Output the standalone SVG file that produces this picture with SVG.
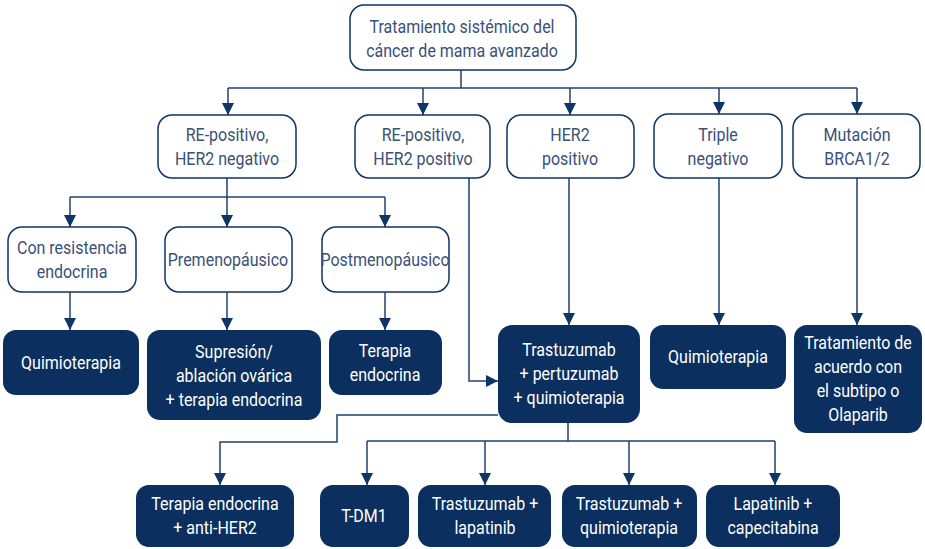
<svg xmlns="http://www.w3.org/2000/svg" width="925" height="549" viewBox="0 0 925 549">
<defs>
<marker id="arr" markerUnits="userSpaceOnUse" markerWidth="12" markerHeight="12" viewBox="0 0 10 10" refX="10" refY="5" orient="auto">
<path d="M0,0 L10,5 L0,10 z" fill="#0d3566"/>
</marker>
<style>
.w{fill:#fff;stroke:#0d3566;stroke-width:1.5}
.d{fill:#0b2f5e;stroke:none}
.t{font-family:Roboto,"Liberation Sans",sans-serif;font-size:18px;text-anchor:middle}
.tw{fill:#3a5078}
.td{fill:#ffffff}
.c{fill:none;stroke:#1f4170;stroke-width:1.5}
</style>
</defs>
<rect width="925" height="549" fill="#fff"/>
<g id="connectors">
<path class="c" d="M461,70 V88 M228,88 H857"/>
<path class="c" marker-end="url(#arr)" d="M228,88 V115"/>
<path class="c" marker-end="url(#arr)" d="M423,88 V115"/>
<path class="c" marker-end="url(#arr)" d="M570,88 V115"/>
<path class="c" marker-end="url(#arr)" d="M719,88 V114"/>
<path class="c" marker-end="url(#arr)" d="M857,88 V114"/>
<path class="c" d="M227,178 V197 M70,197 H385"/>
<path class="c" marker-end="url(#arr)" d="M70,197 V227"/>
<path class="c" marker-end="url(#arr)" d="M227,197 V227"/>
<path class="c" marker-end="url(#arr)" d="M385,197 V227"/>
<path class="c" marker-end="url(#arr)" d="M70,292 V330"/>
<path class="c" marker-end="url(#arr)" d="M227,292 V330"/>
<path class="c" marker-end="url(#arr)" d="M385,292 V330"/>
<path class="c" marker-end="url(#arr)" d="M469,178 V381 H498"/>
<path class="c" marker-end="url(#arr)" d="M569,178 V325"/>
<path class="c" marker-end="url(#arr)" d="M719,178 V325"/>
<path class="c" marker-end="url(#arr)" d="M857,178 V325"/>
<path class="c" marker-end="url(#arr)" d="M498,415 H337 V442 H220 V485"/>
<path class="c" d="M568,423 V441 M367,441 H775"/>
<path class="c" marker-end="url(#arr)" d="M367,441 V485"/>
<path class="c" marker-end="url(#arr)" d="M485,441 V485"/>
<path class="c" marker-end="url(#arr)" d="M629,441 V485"/>
<path class="c" marker-end="url(#arr)" d="M775,441 V485"/>
</g>
<g id="n-root"><rect class="w" x="350" y="5" width="226" height="65" rx="14"/>
<g transform="translate(462,0) scale(0.89,1)"><text class="t tw" x="0" y="33">Tratamiento sistémico del</text><text class="t tw" x="0" y="57">cáncer de mama avanzado</text></g></g>
<g id="n-reneg"><rect class="w" x="158" y="115" width="138" height="63" rx="14"/>
<g transform="translate(227,0) scale(0.89,1)"><text class="t tw" x="0" y="141">RE-positivo,</text><text class="t tw" x="0" y="165">HER2 negativo</text></g></g>
<g id="n-repos"><rect class="w" x="355" y="115" width="135" height="63" rx="14"/>
<g transform="translate(423,0) scale(0.89,1)"><text class="t tw" x="0" y="141">RE-positivo,</text><text class="t tw" x="0" y="165">HER2 positivo</text></g></g>
<g id="n-her2"><rect class="w" x="507" y="115" width="127" height="63" rx="14"/>
<g transform="translate(570,0) scale(0.89,1)"><text class="t tw" x="0" y="141">HER2</text><text class="t tw" x="0" y="165">positivo</text></g></g>
<g id="n-triple"><rect class="w" x="654" y="114" width="128" height="64" rx="14"/>
<g transform="translate(718,0) scale(0.89,1)"><text class="t tw" x="0" y="141">Triple</text><text class="t tw" x="0" y="165">negativo</text></g></g>
<g id="n-brca"><rect class="w" x="793" y="114" width="127" height="64" rx="14"/>
<g transform="translate(857,0) scale(0.89,1)"><text class="t tw" x="0" y="141">Mutación</text><text class="t tw" x="0" y="165">BRCA1/2</text></g></g>
<g id="n-resist"><rect class="w" x="8" y="227" width="128" height="65" rx="14"/>
<g transform="translate(72,0) scale(0.89,1)"><text class="t tw" x="0" y="254">Con resistencia</text><text class="t tw" x="0" y="278">endocrina</text></g></g>
<g id="n-pre"><rect class="w" x="165" y="227" width="127" height="65" rx="14"/>
<g transform="translate(228,0) scale(0.89,1)"><text class="t tw" x="0" y="266">Premenopáusico</text></g></g>
<g id="n-post"><rect class="w" x="322" y="227" width="127" height="65" rx="14"/>
<g transform="translate(385,0) scale(0.89,1)"><text class="t tw" x="0" y="266">Postmenopáusico</text></g></g>
<g id="n-quimio1"><rect class="d" x="3" y="330" width="136" height="65" rx="13"/>
<g transform="translate(71,0) scale(0.89,1)"><text class="t td" x="0" y="369">Quimioterapia</text></g></g>
<g id="n-supresion"><rect class="d" x="147" y="330" width="174" height="90" rx="13"/>
<g transform="translate(234,0) scale(0.89,1)"><text class="t td" x="0" y="358">Supresión/</text><text class="t td" x="0" y="382">ablación ovárica</text><text class="t td" x="0" y="406">+ terapia endocrina</text></g></g>
<g id="n-terapia"><rect class="d" x="329" y="330" width="113" height="65" rx="13"/>
<g transform="translate(385,0) scale(0.89,1)"><text class="t td" x="0" y="357">Terapia</text><text class="t td" x="0" y="381">endocrina</text></g></g>
<g id="n-trastuzumab"><rect class="d" x="498" y="325" width="142" height="98" rx="14"/>
<g transform="translate(569,0) scale(0.89,1)"><text class="t td" x="0" y="356">Trastuzumab</text><text class="t td" x="0" y="380">+ pertuzumab</text><text class="t td" x="0" y="404">+ quimioterapia</text></g></g>
<g id="n-quimio2"><rect class="d" x="650" y="325" width="136" height="64" rx="13"/>
<g transform="translate(718,0) scale(0.89,1)"><text class="t td" x="0" y="363">Quimioterapia</text></g></g>
<g id="n-subtipo"><rect class="d" x="794" y="325" width="128" height="108" rx="13"/>
<g transform="translate(858,0) scale(0.89,1)"><text class="t td" x="0" y="349">Tratamiento de</text><text class="t td" x="0" y="373">acuerdo con</text><text class="t td" x="0" y="397">el subtipo o</text><text class="t td" x="0" y="421">Olaparib</text></g></g>
<g id="n-antiher2"><rect class="d" x="136" y="485" width="158" height="62" rx="13"/>
<g transform="translate(215,0) scale(0.89,1)"><text class="t td" x="0" y="510">Terapia endocrina</text><text class="t td" x="0" y="534">+ anti-HER2</text></g></g>
<g id="n-tdm1"><rect class="d" x="320" y="485" width="89" height="62" rx="13"/>
<g transform="translate(364,0) scale(0.89,1)"><text class="t td" x="0" y="522">T-DM1</text></g></g>
<g id="n-lapat"><rect class="d" x="418" y="485" width="133" height="62" rx="13"/>
<g transform="translate(485,0) scale(0.89,1)"><text class="t td" x="0" y="510">Trastuzumab +</text><text class="t td" x="0" y="534">lapatinib</text></g></g>
<g id="n-trquim"><rect class="d" x="562" y="485" width="135" height="62" rx="13"/>
<g transform="translate(629,0) scale(0.89,1)"><text class="t td" x="0" y="510">Trastuzumab +</text><text class="t td" x="0" y="534">quimioterapia</text></g></g>
<g id="n-capec"><rect class="d" x="706" y="485" width="134" height="62" rx="13"/>
<g transform="translate(773,0) scale(0.89,1)"><text class="t td" x="0" y="510">Lapatinib +</text><text class="t td" x="0" y="534">capecitabina</text></g></g>
</svg>
